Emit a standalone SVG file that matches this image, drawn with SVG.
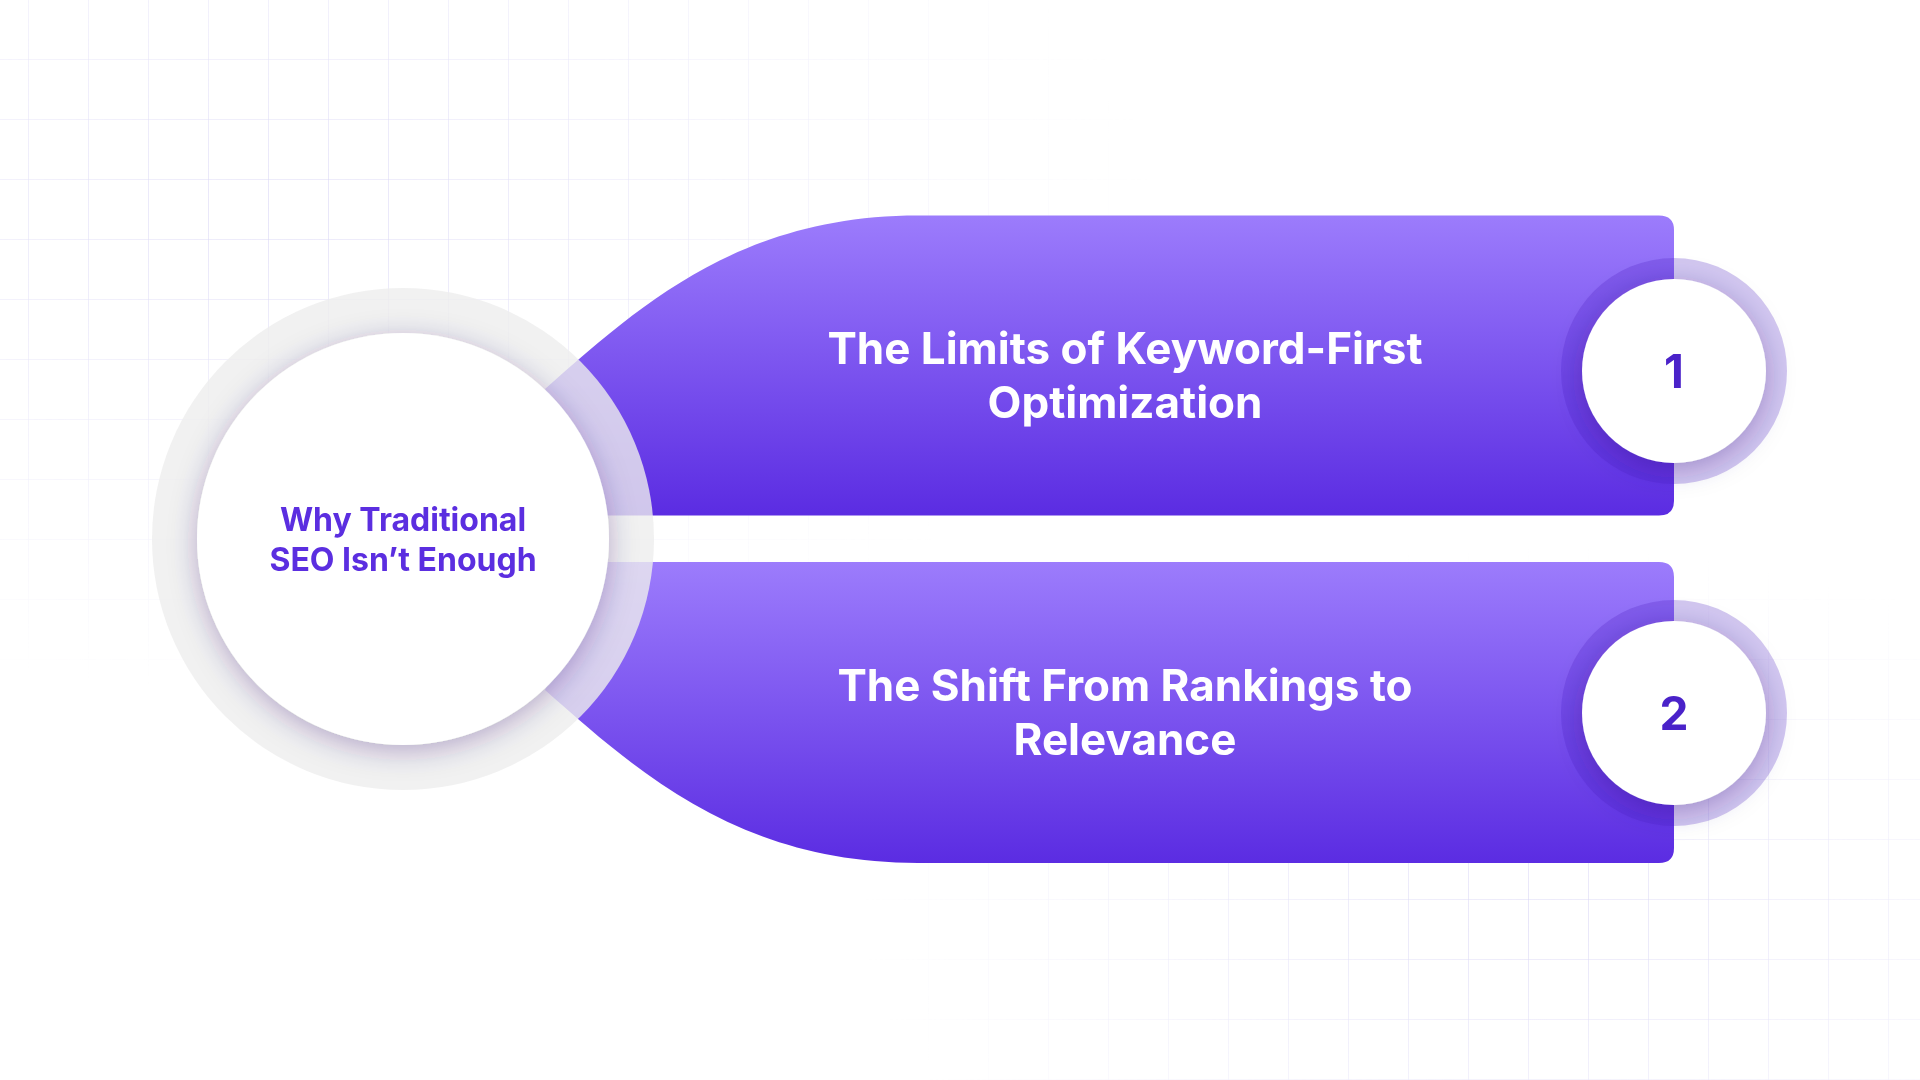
<svg xmlns="http://www.w3.org/2000/svg" width="1920" height="1080" viewBox="0 0 1920 1080">
<defs>
<linearGradient id="band" x1="0" y1="0" x2="0" y2="1"><stop offset="0" stop-color="#9c7cfc"/><stop offset="1" stop-color="#5b2ce2"/></linearGradient>
<pattern id="grid" width="60" height="60" patternUnits="userSpaceOnUse" x="29" y="0"><path d="M60 0V60M0 60H60" fill="none" stroke="#d9d6f5" stroke-width="1.2"/></pattern>
<radialGradient id="fadeA" cx="0.15" cy="0.2" r="0.45"><stop offset="0" stop-color="#fff"/><stop offset="1" stop-color="#000"/></radialGradient>
<radialGradient id="fadeB" cx="0.8" cy="0.85" r="0.35"><stop offset="0" stop-color="#fff"/><stop offset="1" stop-color="#000"/></radialGradient>
<mask id="m"><rect width="1920" height="1080" fill="url(#fadeA)"/><rect width="1920" height="1080" fill="url(#fadeB)" style="mix-blend-mode:screen"/></mask>
<filter id="sh" x="-30%" y="-30%" width="160%" height="160%"><feDropShadow dx="0" dy="6" stdDeviation="14" flood-color="#2a1070" flood-opacity="0.3"/></filter>
<style>
.t{font-family:Inter,"Liberation Sans",sans-serif;font-weight:700;fill:#fff;font-size:44px;text-anchor:middle}
.c{font-family:Inter,"Liberation Sans",sans-serif;font-weight:700;fill:#5b2ee0;font-size:32px;text-anchor:middle}
.n{font-family:Inter,"Liberation Sans",sans-serif;font-weight:700;fill:#4a22c9;font-size:46px;text-anchor:middle}
</style>
</defs>
<rect width="1920" height="1080" fill="#fff"/>
<rect width="1920" height="1080" fill="url(#grid)" mask="url(#m)"/>
<g id="connectors"></g>
<g id="band1">
<path d="M545 389 C640 305 740 215.5 918 215.5 L1659 215.5 Q1674 215.5 1674 230 L1674 501 Q1674 515.5 1659 515.5 L600 515.5 Z" fill="url(#band)"/>
<text class="t" x="1125" y="364">The Limits of Keyword-First</text>
<text class="t" x="1125" y="418">Optimization</text>
</g>
<g id="band2">
<path d="M545 690 C640 774 740 863 918 863 L1659 863 Q1674 863 1674 848 L1674 577 Q1674 562 1659 562 L600 562 Z" fill="url(#band)"/>
<text class="t" x="1125" y="701">The Shift From Rankings to</text>
<text class="t" x="1125" y="755">Relevance</text>
</g>
<g id="num1">
<circle cx="1674" cy="371" r="113" fill="#4a1fc4" opacity="0.25" clip-path="inset(0 0 0 0)"/>
<circle cx="1674" cy="371" r="92" fill="#fff" filter="url(#sh)"/>
<text class="n" x="1674" y="388">1</text>
</g>
<g id="num2">
<circle cx="1674" cy="713" r="113" fill="#4a1fc4" opacity="0.25"/>
<circle cx="1674" cy="713" r="92" fill="#fff" filter="url(#sh)"/>
<text class="n" x="1674" y="730">2</text>
</g>
<g id="center">
<circle cx="403" cy="539" r="251" fill="#eeeeee" opacity="0.8"/>
<circle cx="403" cy="539" r="206" fill="#fff" filter="url(#sh)"/>
<text class="c" x="403" y="531">Why Traditional</text>
<text class="c" x="403" y="571">SEO Isn’t Enough</text>
</g>
</svg>
